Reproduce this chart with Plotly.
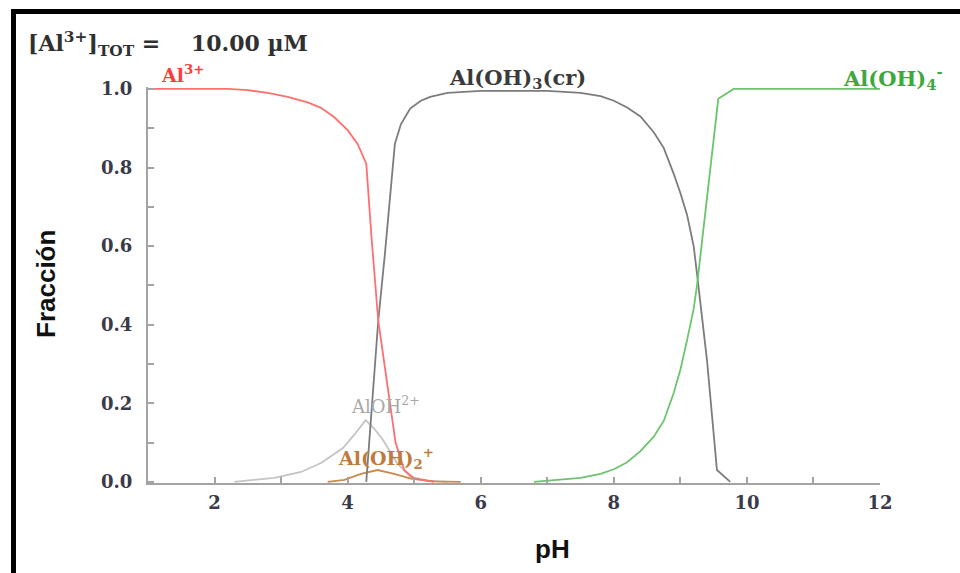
import plotly.graph_objects as go

# ---- data ----
ph_al3 = [1.0, 2.2, 2.5, 2.8, 3.1, 3.4, 3.6, 3.8, 4.0, 4.15, 4.28, 4.36, 4.46, 4.6, 4.72, 4.85, 5.0, 5.3]
fr_al3 = [1.0, 1.0, 0.997, 0.99, 0.98, 0.966, 0.952, 0.928, 0.895, 0.86, 0.81, 0.62, 0.41, 0.24,
          0.10, 0.03, 0.008, 0.0]

ph_aloh3 = [4.28, 4.37, 4.46, 4.56, 4.71, 4.8, 4.94, 5.1, 5.24, 5.5, 6.0, 7.0, 7.5, 7.8, 8.0, 8.2,
            8.4, 8.6, 8.75, 8.9, 9.0, 9.1, 9.2, 9.25, 9.4, 9.55, 9.75]
fr_aloh3 = [0.0, 0.2, 0.41, 0.58, 0.86, 0.91, 0.95, 0.97, 0.98, 0.99, 0.995, 0.995, 0.99, 0.982,
            0.97, 0.953, 0.93, 0.89, 0.85, 0.784, 0.735, 0.68, 0.60, 0.53, 0.31, 0.03, 0.0]

ph_aloh4 = [6.8, 7.2, 7.5, 7.8, 8.0, 8.2, 8.4, 8.6, 8.75, 8.9, 9.0, 9.1, 9.2, 9.25, 9.57, 9.8, 12.0]
fr_aloh4 = [0.0, 0.005, 0.01, 0.02, 0.032, 0.05, 0.078, 0.115, 0.155, 0.226, 0.285, 0.36, 0.44,
            0.50, 0.975, 1.0, 1.0]

ph_aloh = [2.3, 2.9, 3.3, 3.6, 3.93, 4.1, 4.27, 4.4, 4.53, 4.64, 4.74, 4.94, 5.2, 5.5]
fr_aloh = [0.0, 0.01, 0.025, 0.048, 0.086, 0.12, 0.157, 0.135, 0.107, 0.075, 0.048, 0.013, 0.003, 0.0]

ph_aloh2 = [3.7, 3.95, 4.2, 4.45, 4.7, 4.95, 5.3, 5.7]
fr_aloh2 = [0.0, 0.005, 0.02, 0.03, 0.02, 0.008, 0.001, 0.0]

x_ticks = [2, 4, 6, 8, 10, 12]
y_ticks = [0.0, 0.2, 0.4, 0.6, 0.8, 1.0]
y_ticktext = ["0.0", "0.2", "0.4", "0.6", "0.8", "1.0"]

# ---- layout geometry (pixels) ----
W, H = 960, 573
L, R, T, B = 148, 80, 87, 90
PW = W - L - R
PH = H - T - B


def px(x):
    return (x - L) / PW


def py(y):
    return (H - B - y) / PH


SERIF = "DejaVu Serif"
SANS = "Liberation Sans, Arial, sans-serif"

fig = go.Figure()

series = [
    (ph_aloh, fr_aloh, "#c4c4c4", "AlOH2+"),
    (ph_aloh2, fr_aloh2, "#c98a4e", "Al(OH)2+"),
    (ph_aloh3, fr_aloh3, "#7c7c7c", "Al(OH)3(cr)"),
    (ph_al3, fr_al3, "#ff6f6f", "Al3+"),
    (ph_aloh4, fr_aloh4, "#6cc46c", "Al(OH)4-"),
]
for xs, ys, col, name in series:
    fig.add_trace(go.Scatter(x=xs, y=ys, mode="lines", name=name,
                             line=dict(color=col, width=1.8), showlegend=False,
                             hoverinfo="skip"))

axis_col = "#a3a3a3"
fig.update_xaxes(range=[1, 12], showline=True, linecolor=axis_col, linewidth=2,
                 ticks="inside", ticklen=6, tickwidth=1.5, tickcolor=axis_col,
                 tickvals=x_ticks, showgrid=False, zeroline=False,
                 minor=dict(ticks="inside", ticklen=6, tickwidth=1.5, tickcolor=axis_col, dtick=1,
                            tick0=1, showgrid=False),
                 tickfont=dict(family=SERIF, size=18, color="#3a3a48", weight="bold"),
                 ticklabelstandoff=2)
fig.update_yaxes(range=[-0.003, 1.005], showline=True, linecolor=axis_col, linewidth=2,
                 ticks="inside", ticklen=6, tickwidth=1.5, tickcolor=axis_col,
                 tickvals=y_ticks, ticktext=y_ticktext, showgrid=False, zeroline=False,
                 minor=dict(ticks="inside", ticklen=6, tickwidth=1.5, tickcolor=axis_col,
                            tickvals=[0.1, 0.3, 0.5, 0.7, 0.9], showgrid=False),
                 tickfont=dict(family=SERIF, size=18, color="#3a3a48", weight="bold"),
                 ticklabelstandoff=10)

NB = "\u00a0"
ann = [
    ("[Al<sup>3+</sup>]<sub>TOT</sub>" + NB + "=" + NB * 4 + "10.00" + NB + "\u00b5M", 168, 44, "#303030", 22, "bold"),
    ("Al<sup>3+</sup>", 182, 74, "#ff3c3c", 19, "bold"),
    ("Al(OH)<sub>3</sub>(cr)", 517, 78, "#3a3a3a", 21, "bold"),
    ("Al(OH)<sub>4</sub><sup>-</sup>", 893, 78, "#3ea83e", 21, "bold"),
    ("AlOH<sup>2+</sup>", 385, 405, "#a8a8a8", 18, "normal"),
    ("Al(OH)<sub>2</sub><sup>+</sup>", 386, 458, "#c07a3a", 19, "bold"),
]
for text, x, y, col, size, wt in ann:
    fig.add_annotation(text=text, x=px(x), y=py(y), xref="paper", yref="paper",
                       showarrow=False, xanchor="center", yanchor="middle",
                       font=dict(family=SERIF, size=size, color=col, weight=wt))

fig.add_annotation(text="Fracción", x=px(46), y=py(284), xref="paper", yref="paper",
                   showarrow=False, textangle=-90, xanchor="center", yanchor="middle",
                   font=dict(family=SANS, size=26, color="#111111", weight="bold"))
fig.add_annotation(text="pH", x=px(552), y=py(549), xref="paper", yref="paper",
                   showarrow=False, xanchor="center", yanchor="middle",
                   font=dict(family=SANS, size=26, color="#111111", weight="bold"))

# black frame (left and top edges)
fig.add_shape(type="line", xref="paper", yref="paper", x0=px(13.5), x1=px(13.5),
              y0=py(9), y1=py(H + 5), line=dict(color="black", width=5))
fig.add_shape(type="line", xref="paper", yref="paper", x0=px(11), x1=px(W + 5),
              y0=py(11.5), y1=py(11.5), line=dict(color="black", width=5))

fig.update_layout(width=W, height=H, margin=dict(l=L, r=R, t=T, b=B),
                  plot_bgcolor="white", paper_bgcolor="white", showlegend=False)

fig.write_html("out.html")
